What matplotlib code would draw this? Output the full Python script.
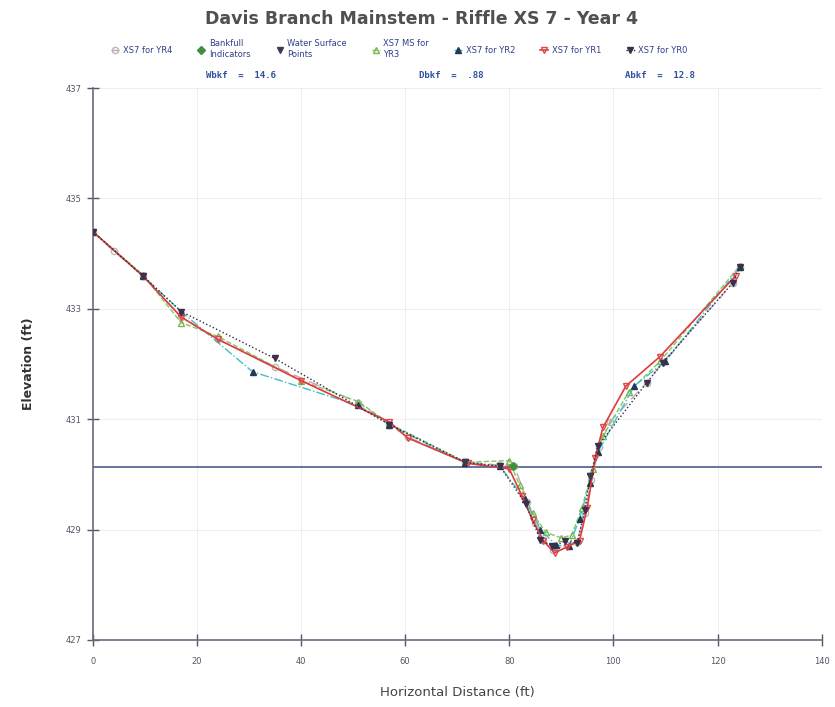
import matplotlib.pyplot as plt

# cross-section survey data, horizontal distance (ft) vs elevation (ft)
yr4_x = [0, 4, 9.6, 17, 24, 35, 51, 57, 60.5, 71.6, 78, 81, 83.5, 85, 86.5, 88.5, 91, 93, 94.5, 95.8, 97.3, 99.3, 106.4, 109.5, 123, 124.3]
yr4_y = [434.4, 434.05, 433.6, 432.85, 432.45, 431.95, 431.3, 430.9, 430.68, 430.22, 430.17, 430.15, 429.5, 429.12, 428.82, 428.63, 428.72, 428.78, 429.3, 429.9, 430.5, 430.95, 431.66, 432.03, 433.47, 433.76]

yr3_x = [0, 9.6, 17, 24, 40, 51, 57, 71.6, 80, 82, 84.5, 87, 90, 92, 94, 96, 98, 103, 109, 124.3]
yr3_y = [434.4, 433.62, 432.75, 432.5, 431.7, 431.32, 430.92, 430.22, 430.25, 429.8, 429.3, 428.95, 428.85, 428.9, 429.4, 430.1, 430.7, 431.5, 432.05, 433.78]

yr2_x = [0, 9.6, 17, 30.7, 51, 57, 71.6, 78.2, 83, 86, 89, 91.5, 93.5, 95.5, 97, 104, 110, 124.3]
yr2_y = [434.4, 433.6, 432.95, 431.86, 431.25, 430.9, 430.2, 430.15, 429.55, 429.0, 428.72, 428.7, 429.2, 429.85, 430.4, 431.6, 432.05, 433.75]

yr1_x = [0, 9.6, 17, 24, 40, 57, 60.5, 72, 80, 82.5, 84.5, 86.5, 88.7, 91, 93.5, 95, 96.5, 98, 102.4, 108.9, 123.5]
yr1_y = [434.4, 433.6, 432.85, 432.45, 431.7, 430.95, 430.66, 430.2, 430.1, 429.6, 429.17, 428.8, 428.58, 428.68, 428.8, 429.4, 430.3, 430.85, 431.6, 432.13, 433.6]

yr0_x = [0, 9.6, 17, 35, 57, 71.6, 78.2, 83.2, 86, 88.3, 90.8, 93.1, 94.5, 95.6, 97, 106.4, 109.5, 122.9, 124.3]
yr0_y = [434.4, 433.6, 432.95, 432.1, 430.9, 430.22, 430.15, 429.46, 428.81, 428.7, 428.79, 428.76, 429.36, 429.97, 430.51, 431.66, 432.02, 433.47, 433.76]

bkf_x = [80.7]
bkf_y = [430.15]
ws_x = [71.6, 95.6]
ws_y = [430.22, 429.97]

bankfull_elev = 430.13
stats = ["Wbkf  =  14.6", "Dbkf  =  .88", "Abkf  =  12.8"]

fig = plt.figure(figsize=(8.35, 7.07), dpi=100)
ax = fig.add_axes([0.111, 0.0948, 0.873, 0.7807])

ax.plot(yr4_x, yr4_y, color='#c8a0b8', lw=1.0, ls=(0, (8, 4)), marker='o', ms=4.5,
        mfc='none', mec='#b8b8b8', label='XS7 for YR4', zorder=3)
ax.plot(bkf_x, bkf_y, ls='none', marker='D', ms=4.5, color='#3f8f3f', label='Bankfull\nIndicators', zorder=6)
ax.plot(ws_x, ws_y, ls='none', marker='v', ms=5, color='#3a3a52', label='Water Surface\nPoints', zorder=6)
ax.plot(yr3_x, yr3_y, color='#80c860', lw=1.0, ls='--', marker='^', ms=4.5,
        mfc='none', mec='#7ab84a', label='XS7 MS for\nYR3', zorder=3)
ax.plot(yr2_x, yr2_y, color='#40c0c8', lw=1.0, ls='-.', marker='^', ms=5,
        mfc='#223a58', mec='#223a58', label='XS7 for YR2', zorder=4)
ax.plot(yr1_x, yr1_y, color='#e03a3a', lw=1.2, ls='-', marker='v', ms=4.5,
        mfc='none', mec='#e04848', label='XS7 for YR1', zorder=5)
ax.plot(yr0_x, yr0_y, color='#2e2e3e', lw=1.0, ls=':', marker='v', ms=5,
        mfc='#3e2e4e', mec='#3e2e4e', label='XS7 for YR0', zorder=5)

ax.axhline(bankfull_elev, color='#5a6898', lw=1.3, zorder=2)

ax.set_xlim(0, 140)
ax.set_ylim(427, 437)
ax.set_xticks(range(0, 141, 20))
ax.set_yticks(range(427, 438, 2))
ax.grid(True, color='#eeeeee', lw=0.8)
ax.set_axisbelow(True)
for s in ['top', 'right']:
    ax.spines[s].set_visible(False)
for s in ['left', 'bottom']:
    ax.spines[s].set_color('#6a6a80')
    ax.spines[s].set_linewidth(1.2)
ax.tick_params(axis='both', direction='inout', length=9, width=1.0, color='#555566',
               labelsize=6, labelcolor='#555566')
ax.tick_params(axis='x', pad=8)

ax.set_xlabel('Horizontal Distance (ft)', fontsize=9.5, color='#444444', labelpad=14)
ax.set_ylabel('Elevation (ft)', fontsize=9, fontweight='bold', color='#333333', labelpad=22)

fig.text(0.505, 0.973, 'Davis Branch Mainstem - Riffle XS 7 - Year 4', ha='center', va='center',
         fontsize=12.5, fontweight='semibold', color='#505050')
fig.legend(loc='upper center', bbox_to_anchor=(0.478, 0.955), ncol=7, frameon=False, fontsize=6,
           handlelength=1.0, handletextpad=0.4, columnspacing=3.0, labelcolor='#30408a')

for xpos, s in zip([0.288, 0.54, 0.79], stats):
    fig.text(xpos, 0.893, s, ha='center', va='center', fontsize=6.5, fontweight='bold',
             color='#2f4fa0', family='DejaVu Sans Mono')

fig.savefig('out.png', dpi=100)
